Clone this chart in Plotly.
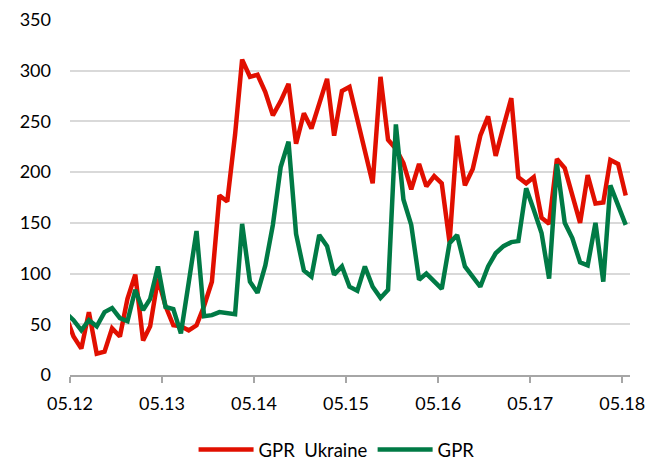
import pandas as pd
import plotly.graph_objects as go

# Monthly observations, April 2012 .. May 2018 (plotted mid-month)
months = pd.date_range("2012-04-01", periods=74, freq="MS") + pd.Timedelta(days=14)

gpr_ukraine = [58, 38, 26, 62, 21, 23, 46, 38, 75, 99,
               34, 48, 95, 68, 49, 48, 44, 49, 68, 92,
               177, 171, 237, 311, 294, 296, 279, 256, 270, 287,
               228, 258, 243, 266, 292, 236, 280, 284, 253, 221,
               189, 294, 232, 223, 209, 183, 208, 186, 196, 189,
               131, 236, 187, 203, 236, 255, 216, 245, 273, 195,
               189, 195, 155, 149, 213, 204, 176, 150, 197, 169,
               170, 212, 208, 177]

gpr = [61, 54, 44, 54, 48, 62, 66, 56, 53, 84,
       64, 75, 107, 67, 65, 41, 91, 142, 58, 59,
       62, 61, 60, 149, 92, 81, 108, 148, 205, 230,
       139, 103, 97, 138, 127, 99, 107, 87, 83, 107,
       87, 76, 84, 247, 173, 148, 94, 100, 93, 85,
       130, 138, 107, 96, 87, 107, 120, 127, 131, 132,
       184, 163, 140, 95, 208, 150, 135, 111, 108, 150,
       92, 187, 166, 148]

series_names = ["GPR\u00a0 Ukraine", "GPR"]
colors = ["#E10F00", "#007A45"]

FONT = "Lato, 'Liberation Sans', Arial, sans-serif"

fig = go.Figure()
for name, vals, col in zip(series_names, [gpr_ukraine, gpr], colors):
    fig.add_trace(go.Scatter(x=months, y=vals, mode="lines", name=name,
                             line=dict(color=col, width=4.5)))

fig.update_layout(
    width=651, height=461,
    margin=dict(l=70, r=21, t=20, b=86, autoexpand=False),
    paper_bgcolor="white", plot_bgcolor="white",
    font=dict(family=FONT, size=18, color="#000000"),
    showlegend=True,
    legend=dict(orientation="h", xref="container", yref="container",
                x=0.517, xanchor="center", y=0.024, yanchor="middle",
                font=dict(family=FONT, size=18.5, color="#000000"),
                itemwidth=55, entrywidth=0, traceorder="normal"),
    xaxis=dict(type="date", range=["2012-05-01", "2018-06-01"],
               tick0="2012-05-01", dtick="M12", tickformat="%m.%y",
               showgrid=False, showline=True, linecolor="#A6A6A6", linewidth=1.5,
               ticks="outside", ticklen=6, tickcolor="#A6A6A6", tickwidth=1.5,
               ticklabelstandoff=6, zeroline=False, automargin=False),
    yaxis=dict(range=[0, 350], dtick=50, tick0=0,
               showgrid=True, gridcolor="#D9D9D9", gridwidth=1.5,
               showline=False, zeroline=False, ticks="",
               ticklabelstandoff=18, automargin=False),
)

fig.write_html("out.html", config={"displayModeBar": False},
               post_script="document.body.style.margin='0';document.body.style.overflow='hidden';")
